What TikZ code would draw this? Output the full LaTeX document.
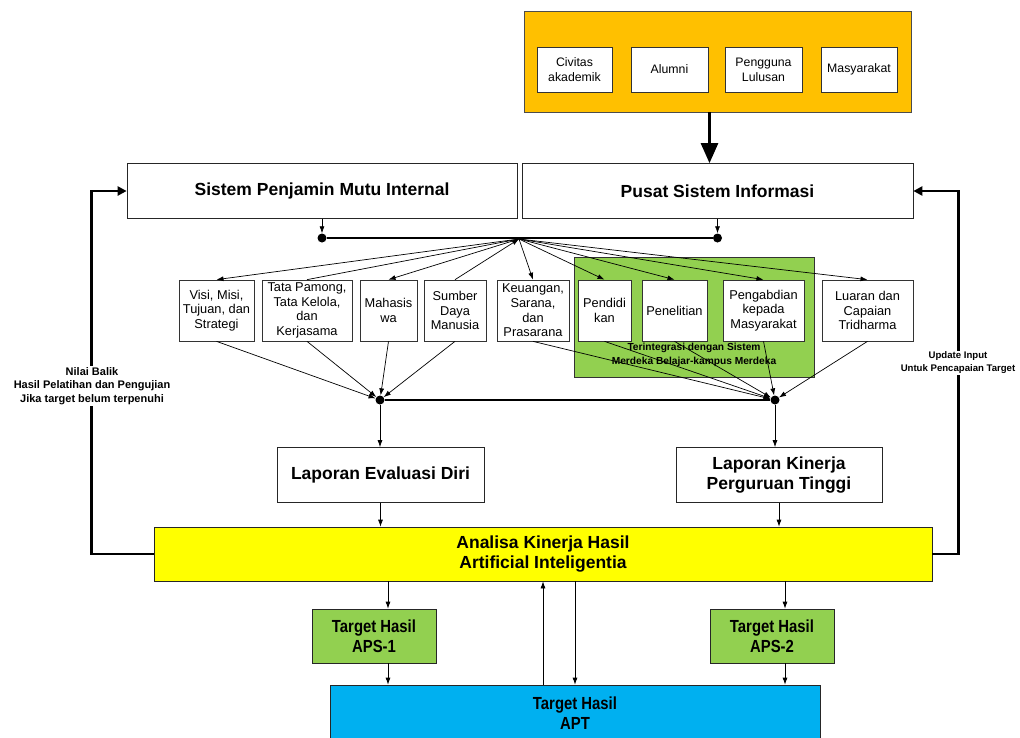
\documentclass[tikz,border=0pt]{standalone}
\usepackage{fontspec}
\setmainfont{Liberation Sans}
\newfontfamily\narrowsans{Liberation Sans}[FakeStretch=0.85]
\definecolor{orangebox}{RGB}{255, 192, 0}
\definecolor{greenbox}{RGB}{146, 208, 80}
\definecolor{yellowbox}{RGB}{255, 255, 0}
\definecolor{bluebox}{RGB}{0, 176, 240}
\usetikzlibrary{arrows.meta, positioning, calc}
\begin{document}
\begin{tikzpicture}[x=1pt, y=-1pt,
		item/.style={draw=black!80, fill=white, line width=0.7pt, align=center, inner sep=1pt,
			font=\fontsize{12.8}{14.6}\selectfont, minimum height=61pt},
		head/.style={draw=black!85, fill=white, line width=0.7pt, align=center,
			font=\fontsize{17.5}{20.5}\selectfont\bfseries, minimum height=55pt},
		target/.style={head, font=\narrowsans\fontsize{17.5}{20}\selectfont\bfseries, minimum height=54pt},
		arr/.style={-{Latex[length=7pt,width=5pt]}, line width=0.7pt},
		fat/.style={line width=2.6pt},
		dot/.style={circle, fill=black, inner sep=0pt, minimum size=9pt},
		note/.style={font=\fontsize{10.2}{13.6}\selectfont\bfseries, align=center, inner sep=1pt}]
	\useasboundingbox (0,0) rectangle (1020,737);
	% sumber masukan
	\node[draw=black!70, fill=orangebox, line width=0.8pt, minimum width=387pt, minimum height=101pt] (stake) at (717.5,61.5) {};
	\node[item, minimum width=75pt, minimum height=45pt, font=\fontsize{12.3}{15}\selectfont] (civitas) at (574.5,69.5) {Civitas\\akademik};
	\node[item, minimum width=77pt, minimum height=45pt, font=\fontsize{12.3}{15}\selectfont] (alumni) at (669.5,69.5) {Alumni};
	\node[item, minimum width=77pt, minimum height=45pt, font=\fontsize{12.3}{15}\selectfont] (pengguna) at (763.5,69.5) {Pengguna\\Lulusan};
	\node[item, minimum width=76pt, minimum height=45pt, font=\fontsize{12.3}{15}\selectfont] (masy) at (859,69.5) {Masyarakat};
	% sistem
	\node[head, minimum width=390pt] (spmi) at (322,191) {Sistem Penjamin Mutu Internal};
	\node[head, minimum width=391pt] (psi) at (717.5,191) {Pusat Sistem Informasi};
	\draw[fat, -{Triangle[length=20pt,width=17pt]}] ([xshift=-8pt]stake.south) -- ([xshift=-8pt]psi.north);
	\node[dot] (d1) at (322,238) {};
	\node[dot] (d2) at (717.5,238) {};
	\coordinate (hub) at (519,239);
	\draw[arr] (spmi.south) -- (d1);
	\draw[arr] (psi.south) -- (d2);
	\draw[fat] (d1) -- (d2);
	% kriteria
	\node[draw=black!80, fill=greenbox, line width=0.8pt, minimum width=240pt, minimum height=120pt] (mbkm) at (694,317) {};
	\node[note] (mbkmtext) at (694,355) {Terintegrasi dengan Sistem\\Merdeka Belajar-kampus Merdeka};
	\node[item, minimum width=75pt] (visi) at (216.5,310.5) {Visi, Misi,\\Tujuan, dan\\Strategi};
	\node[item, minimum width=90pt] (tata) at (307,310.5) {Tata Pamong,\\Tata Kelola,\\dan\\Kerjasama};
	\node[item, minimum width=57pt] (mhs) at (388.5,310.5) {Mahasis\\wa};
	\node[item, minimum width=62pt] (sdm) at (455,310.5) {Sumber\\Daya\\Manusia};
	\node[item, minimum width=72pt] (keu) at (533,310.5) {Keuangan,\\Sarana,\\dan\\Prasarana};
	\node[item, minimum width=53pt] (pend) at (604.5,310.5) {Pendidi\\kan};
	\node[item, minimum width=65pt] (penel) at (674.5,310.5) {Penelitian};
	\node[item, minimum width=81pt] (pengab) at (763.5,310.5) {Pengabdian\\kepada\\Masyarakat};
	\node[item, minimum width=91pt] (luaran) at (867.5,310.5) {Luaran dan\\Capaian\\Tridharma};
	\foreach \k in {visi, mhs, keu, pend, penel, pengab, luaran}
		\draw[arr] (hub) -- (\k.north);
	\draw[line width=0.7pt] (tata.north) -- (hub);
	\draw[arr] (sdm.north) -- (hub);
	\node[dot] (d3) at (380,400) {};
	\node[dot] (d4) at (775,400) {};
	\foreach \k in {visi, tata, mhs, sdm}
		\draw[arr] (\k.south) -- (d3);
	\foreach \k in {keu, pend, penel, pengab, luaran}
		\draw[arr] (\k.south) -- (d4);
	\draw[fat] (d3) -- (d4);
	% laporan
	\node[head, minimum width=207pt] (led) at (380.5,475) {Laporan Evaluasi Diri};
	\node[head, minimum width=206pt] (lkpt) at (779,475) {Laporan Kinerja\\Perguruan Tinggi};
	\draw[arr] (d3) -- (d3 |- led.north);
	\draw[arr] (d4) -- (d4 |- lkpt.north);
	% analisa
	\node[head, fill=yellowbox, minimum width=778pt, minimum height=54pt] (ai) at (543,554) {Analisa Kinerja Hasil\\Artificial Inteligentia};
	\draw[arr] (led.south) -- (led.south |- ai.north);
	\draw[arr] (lkpt.south) -- (lkpt.south |- ai.north);
	\node[target, fill=greenbox, minimum width=124pt] (aps1) at (374,636) {Target Hasil\\APS-1};
	\node[target, fill=greenbox, minimum width=124pt] (aps2) at (772,636) {Target Hasil\\APS-2};
	\node[target, fill=bluebox, minimum width=490pt, minimum height=56pt] (apt) at (575,713) {Target Hasil\\APT};
	\draw[arr] ([xshift=14pt]aps1.north |- ai.south) -- ([xshift=14pt]aps1.north);
	\draw[arr] ([xshift=13pt]aps2.north |- ai.south) -- ([xshift=13pt]aps2.north);
	\draw[arr] ([xshift=14pt]aps1.south) -- ([xshift=14pt]aps1.south |- apt.north);
	\draw[arr] ([xshift=13pt]aps2.south) -- ([xshift=13pt]aps2.south |- apt.north);
	\draw[arr] (apt.north -| ai.south) -- (ai.south);
	\draw[arr] (ai.south -| apt.north) -- (apt.north);
	% umpan balik
	\draw[fat, -{Triangle[length=9pt,width=9pt]}] (ai.west) -- ++(-62,0) |- (spmi.west);
	\draw[fat, -{Triangle[length=9pt,width=9pt]}] (ai.east) -- ++(26,0) |- (psi.east);
	\node[note, fill=white, font=\fontsize{11}{13.5}\selectfont\bfseries] (balik) at (92,386) {Nilai Balik\\Hasil Pelatihan dan Pengujian\\Jika target belum terpenuhi};
	\node[note, fill=white, font=\fontsize{9.6}{13}\selectfont\bfseries] (update) at (958,363) {Update Input\\Untuk Pencapaian Target};
\end{tikzpicture}
\end{document}
